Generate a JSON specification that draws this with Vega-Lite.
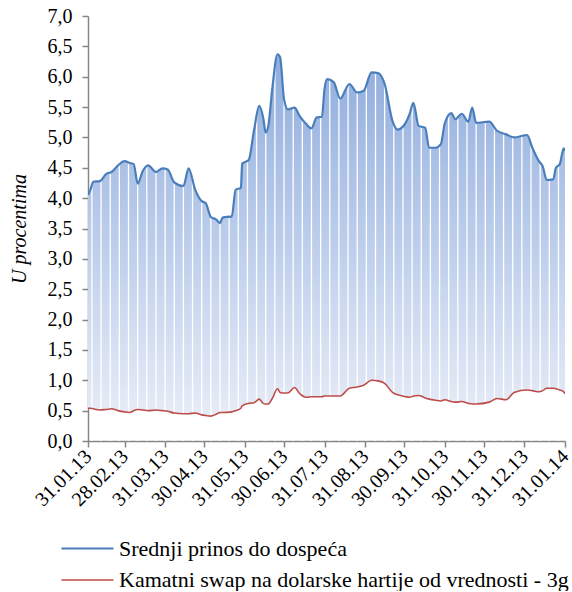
{
  "$schema": "https://vega.github.io/schema/vega-lite/v6.json",
  "width": 477,
  "height": 425,
  "padding": {"left": 9, "top": 6, "right": 0, "bottom": 0},
  "background": "white",
  "config": {
    "view": {"stroke": null},
    "font": "Liberation Serif",
    "axis": {
      "grid": false,
      "domainColor": "#868686",
      "domainWidth": 1.5,
      "tickColor": "#868686",
      "tickWidth": 1.5,
      "tickSize": 6,
      "labelFont": "Liberation Serif",
      "labelFontSize": 20,
      "labelColor": "#000000",
      "titleFont": "Liberation Serif",
      "titleFontSize": 20,
      "titleFontWeight": "normal",
      "titleColor": "#000000",
      "zindex": 1
    },
    "axisX": {"labelOverlap": false},
    "legend": {
      "labelFont": "Liberation Serif",
      "labelFontSize": 22,
      "labelColor": "#000000",
      "labelLimit": 600
    }
  },
  "data": {
    "values": [
      {"date": "2013-01-31", "prinos": 4.05, "swap": 0.54},
      {"date": "2013-02-02", "prinos": 4.15, "swap": 0.54},
      {"date": "2013-02-04", "prinos": 4.27, "swap": 0.53},
      {"date": "2013-02-09", "prinos": 4.28, "swap": 0.51},
      {"date": "2013-02-14", "prinos": 4.40, "swap": 0.52},
      {"date": "2013-02-18", "prinos": 4.43, "swap": 0.53},
      {"date": "2013-02-23", "prinos": 4.54, "swap": 0.50},
      {"date": "2013-02-28", "prinos": 4.61, "swap": 0.48},
      {"date": "2013-03-04", "prinos": 4.58, "swap": 0.47},
      {"date": "2013-03-07", "prinos": 4.56, "swap": 0.50},
      {"date": "2013-03-10", "prinos": 4.24, "swap": 0.52},
      {"date": "2013-03-14", "prinos": 4.45, "swap": 0.51},
      {"date": "2013-03-18", "prinos": 4.54, "swap": 0.50},
      {"date": "2013-03-24", "prinos": 4.43, "swap": 0.51},
      {"date": "2013-03-29", "prinos": 4.49, "swap": 0.50},
      {"date": "2013-04-02", "prinos": 4.47, "swap": 0.49},
      {"date": "2013-04-07", "prinos": 4.26, "swap": 0.46},
      {"date": "2013-04-14", "prinos": 4.20, "swap": 0.45},
      {"date": "2013-04-18", "prinos": 4.49, "swap": 0.45},
      {"date": "2013-04-23", "prinos": 4.14, "swap": 0.46},
      {"date": "2013-04-28", "prinos": 3.95, "swap": 0.43},
      {"date": "2013-05-01", "prinos": 3.92, "swap": 0.42},
      {"date": "2013-05-05", "prinos": 3.69, "swap": 0.41},
      {"date": "2013-05-09", "prinos": 3.65, "swap": 0.44},
      {"date": "2013-05-12", "prinos": 3.59, "swap": 0.47},
      {"date": "2013-05-14", "prinos": 3.68, "swap": 0.47},
      {"date": "2013-05-21", "prinos": 3.70, "swap": 0.48},
      {"date": "2013-05-24", "prinos": 4.14, "swap": 0.50},
      {"date": "2013-05-28", "prinos": 4.17, "swap": 0.54},
      {"date": "2013-05-29", "prinos": 4.57, "swap": 0.58},
      {"date": "2013-06-03", "prinos": 4.63, "swap": 0.62},
      {"date": "2013-06-07", "prinos": 5.11, "swap": 0.63},
      {"date": "2013-06-11", "prinos": 5.52, "swap": 0.69},
      {"date": "2013-06-14", "prinos": 5.33, "swap": 0.62},
      {"date": "2013-06-16", "prinos": 5.08, "swap": 0.61},
      {"date": "2013-06-18", "prinos": 5.19, "swap": 0.61},
      {"date": "2013-06-21", "prinos": 5.80, "swap": 0.70},
      {"date": "2013-06-25", "prinos": 6.37, "swap": 0.86},
      {"date": "2013-06-27", "prinos": 6.32, "swap": 0.80},
      {"date": "2013-06-30", "prinos": 5.63, "swap": 0.79},
      {"date": "2013-07-03", "prinos": 5.46, "swap": 0.79},
      {"date": "2013-07-08", "prinos": 5.49, "swap": 0.88},
      {"date": "2013-07-12", "prinos": 5.35, "swap": 0.78},
      {"date": "2013-07-17", "prinos": 5.22, "swap": 0.72},
      {"date": "2013-07-21", "prinos": 5.15, "swap": 0.73},
      {"date": "2013-07-25", "prinos": 5.33, "swap": 0.73},
      {"date": "2013-07-29", "prinos": 5.34, "swap": 0.73},
      {"date": "2013-07-31", "prinos": 5.80, "swap": 0.74},
      {"date": "2013-08-02", "prinos": 5.96, "swap": 0.74},
      {"date": "2013-08-07", "prinos": 5.91, "swap": 0.74},
      {"date": "2013-08-12", "prinos": 5.64, "swap": 0.74},
      {"date": "2013-08-19", "prinos": 5.88, "swap": 0.87},
      {"date": "2013-08-25", "prinos": 5.74, "swap": 0.89},
      {"date": "2013-08-30", "prinos": 5.77, "swap": 0.92},
      {"date": "2013-09-05", "prinos": 6.07, "swap": 1.00},
      {"date": "2013-09-10", "prinos": 6.06, "swap": 0.99},
      {"date": "2013-09-15", "prinos": 5.88, "swap": 0.95},
      {"date": "2013-09-21", "prinos": 5.27, "swap": 0.80},
      {"date": "2013-09-25", "prinos": 5.13, "swap": 0.76},
      {"date": "2013-10-01", "prinos": 5.24, "swap": 0.73},
      {"date": "2013-10-04", "prinos": 5.38, "swap": 0.72},
      {"date": "2013-10-07", "prinos": 5.57, "swap": 0.74},
      {"date": "2013-10-11", "prinos": 5.19, "swap": 0.75},
      {"date": "2013-10-16", "prinos": 5.16, "swap": 0.71},
      {"date": "2013-10-19", "prinos": 4.83, "swap": 0.69},
      {"date": "2013-10-24", "prinos": 4.83, "swap": 0.67},
      {"date": "2013-10-28", "prinos": 4.89, "swap": 0.66},
      {"date": "2013-10-31", "prinos": 5.23, "swap": 0.68},
      {"date": "2013-11-05", "prinos": 5.40, "swap": 0.65},
      {"date": "2013-11-08", "prinos": 5.30, "swap": 0.64},
      {"date": "2013-11-13", "prinos": 5.39, "swap": 0.65},
      {"date": "2013-11-18", "prinos": 5.26, "swap": 0.62},
      {"date": "2013-11-21", "prinos": 5.49, "swap": 0.61},
      {"date": "2013-11-24", "prinos": 5.24, "swap": 0.61},
      {"date": "2013-12-04", "prinos": 5.26, "swap": 0.64},
      {"date": "2013-12-10", "prinos": 5.11, "swap": 0.70},
      {"date": "2013-12-17", "prinos": 5.05, "swap": 0.68},
      {"date": "2013-12-23", "prinos": 5.00, "swap": 0.80},
      {"date": "2014-01-02", "prinos": 5.04, "swap": 0.84},
      {"date": "2014-01-06", "prinos": 4.83, "swap": 0.83},
      {"date": "2014-01-11", "prinos": 4.61, "swap": 0.81},
      {"date": "2014-01-14", "prinos": 4.52, "swap": 0.83},
      {"date": "2014-01-17", "prinos": 4.30, "swap": 0.87},
      {"date": "2014-01-22", "prinos": 4.31, "swap": 0.87},
      {"date": "2014-01-24", "prinos": 4.50, "swap": 0.86},
      {"date": "2014-01-27", "prinos": 4.56, "swap": 0.84},
      {"date": "2014-01-30", "prinos": 4.82, "swap": 0.81},
      {"date": "2014-01-31", "prinos": 4.78, "swap": 0.78}
    ]
  },
  "layer": [
    {
      "mark": {
        "type": "area",
        "clip": true,
        "interpolate": "monotone",
        "color": {
          "gradient": "linear",
          "x1": 0, "y1": 0, "x2": 0, "y2": 1,
          "stops": [
            {"offset": 0, "color": "#90ADDE"},
            {"offset": 1, "color": "#E6ECF7"}
          ]
        }
      },
      "encoding": {
        "x": {
          "field": "date",
          "type": "temporal",
          "title": null,
          "scale": {"domain": [{"year": 2013, "month": 1, "date": 31}, {"year": 2014, "month": 1, "date": 31}]},
          "axis": {
            "values": [
              {"year": 2013, "month": 1, "date": 31},
              {"year": 2013, "month": 2, "date": 28},
              {"year": 2013, "month": 3, "date": 31},
              {"year": 2013, "month": 4, "date": 30},
              {"year": 2013, "month": 5, "date": 31},
              {"year": 2013, "month": 6, "date": 30},
              {"year": 2013, "month": 7, "date": 31},
              {"year": 2013, "month": 8, "date": 31},
              {"year": 2013, "month": 9, "date": 30},
              {"year": 2013, "month": 10, "date": 31},
              {"year": 2013, "month": 11, "date": 30},
              {"year": 2013, "month": 12, "date": 31},
              {"year": 2014, "month": 1, "date": 31}
            ],
            "tickCount": 30,
            "format": "%d.%m.%y",
            "labelAngle": -45,
            "labelBaseline": "middle",
            "labelAlign": "right",
            "labelPadding": 6,
            "labelOverlap": false,
            "labelFlush": false,
            "labelFont": "Liberation Serif",
            "labelFontSize": 20
          }
        },
        "y": {
          "field": "prinos",
          "type": "quantitative",
          "title": "U procentima",
          "scale": {"domain": [0, 7], "nice": false},
          "axis": {
            "values": [0, 0.5, 1, 1.5, 2, 2.5, 3, 3.5, 4, 4.5, 5, 5.5, 6, 6.5, 7],
            "tickCount": 30,
            "labelExpr": "replace(format(datum.value, '.1f'), '.', ',')",
            "labelPadding": 10,
            "labelFont": "Liberation Serif",
            "labelFontSize": 20,
            "titleFont": "Liberation Serif",
            "titleFontStyle": "italic",
            "titlePadding": 18,
            "labelFlush": false
          }
        },
        "y2": {"field": "swap"}
      }
    },
    {
      "transform": [
        {"timeUnit": "yearweek", "field": "date", "as": "wk"},
        {"aggregate": [{"op": "count", "as": "n"}], "groupby": ["wk"]}
      ],
      "mark": {"type": "rule", "color": "#FFFFFF", "strokeWidth": 1.3, "clip": true},
      "encoding": {
        "x": {"field": "wk", "type": "temporal", "title": null}
      }
    },
    {
      "transform": [{"fold": ["prinos", "swap"], "as": ["serija", "vrednost"]}],
      "mark": {"type": "line", "clip": true, "interpolate": "monotone"},
      "encoding": {
        "x": {"field": "date", "type": "temporal", "title": null},
        "y": {"field": "vrednost", "type": "quantitative", "title": "U procentima"},
        "color": {
          "field": "serija",
          "type": "nominal",
          "scale": {"domain": ["prinos", "swap"], "range": ["#4A7EBB", "#BE4B48"]},
          "legend": {
            "title": null,
            "orient": "none",
            "legendX": -12,
            "legendY": 521,
            "symbolType": "M-2.6,0H2.6",
            "symbolSize": 400,
            "symbolStrokeWidth": 3,
            "rowPadding": 9,
            "labelOffset": 20,
            "labelFont": "Liberation Serif",
            "labelFontSize": 22,
            "labelLimit": 600,
            "labelExpr": "datum.value == 'prinos' ? 'Srednji prinos do dospeća' : 'Kamatni swap na dolarske hartije od vrednosti - 3g'"
          }
        },
        "strokeWidth": {
          "field": "serija",
          "type": "nominal",
          "scale": {"domain": ["prinos", "swap"], "range": [2.2, 1.6]},
          "legend": null
        }
      }
    }
  ]
}
